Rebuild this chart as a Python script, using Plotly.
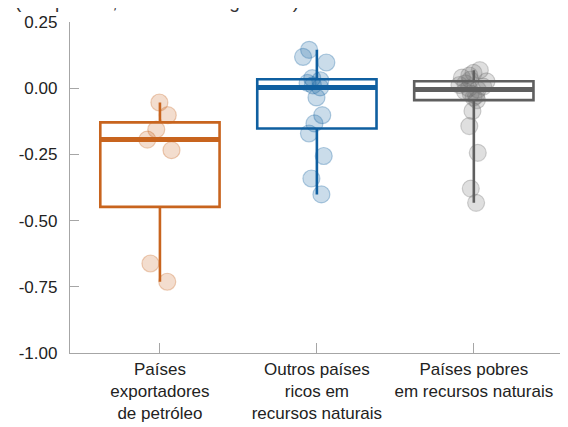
import numpy as np
import plotly.graph_objects as go

# ---- data ----
categories = ["Países<br>exportadores<br>de petróleo",
              "Outros países<br>ricos em<br>recursos naturais",
              "Países pobres<br>em recursos naturais"]
oil_exporters = [-0.054, -0.102, -0.156, -0.194, -0.234, -0.662, -0.731]
other_rich = [0.145, 0.118, 0.097, 0.038, 0.030, 0.020, 0.011, 0.003,
              -0.035, -0.102, -0.133, -0.171, -0.256, -0.341, -0.401]
resource_poor = [-0.433, -0.379, -0.244, -0.143, -0.086, -0.045, -0.035,
                 -0.028, -0.020, -0.012, -0.005, 0.000, 0.006, 0.012, 0.018,
                 0.026, 0.032, 0.040, 0.048, 0.058, 0.068]
y_tick_vals = [0.25, 0.0, -0.25, -0.5, -0.75, -1.0]
y_tick_text = ["0.25", "0.00", "-0.25", "-0.50", "-0.75", "-1.00"]
title_text = "(Em pontos; desvio em logaritmo)"

series = [oil_exporters, other_rich, resource_poor]
line_colors = ["#C8641E", "#0F5FA0", "#5F5F5F"]
point_fill = ["rgba(200,100,30,0.22)", "rgba(15,95,160,0.22)", "rgba(110,110,110,0.22)"]
point_line = ["rgba(200,100,30,0.30)", "rgba(15,95,160,0.30)", "rgba(110,110,110,0.30)"]

BOX_W = 0.76
FONT = "Liberation Sans, Arial, sans-serif"

fig = go.Figure()
for i, vals in enumerate(series):
    xs = [i] * len(vals)
    # points layer (beneath the box)
    fig.add_trace(go.Box(
        x=xs, y=vals, width=BOX_W, boxpoints="all", jitter=0.25, pointpos=0,
        line=dict(width=0, color="rgba(0,0,0,0)"), fillcolor="rgba(0,0,0,0)",
        marker=dict(size=17, color=point_fill[i],
                    line=dict(width=1.2, color=point_line[i])),
        whiskerwidth=0, showlegend=False, hoverinfo="y"))
    # box layer
    fig.add_trace(go.Box(
        x=xs, y=vals, width=BOX_W, boxpoints=False, quartilemethod="inclusive",
        line=dict(width=2.6, color=line_colors[i]), fillcolor="rgba(0,0,0,0)",
        whiskerwidth=0, showlegend=False))
    # thicker median
    med = float(np.median(vals))
    fig.add_trace(go.Scatter(
        x=[i - BOX_W / 2, i + BOX_W / 2], y=[med, med], mode="lines",
        line=dict(width=5, color=line_colors[i]), showlegend=False,
        hoverinfo="skip"))

fig.update_layout(
    width=560, height=419,
    margin=dict(l=62, r=0, t=14, b=74),
    paper_bgcolor="white", plot_bgcolor="white",
    boxmode="overlay",
    font=dict(family=FONT, size=17, color="#222222"),
    title=dict(text=title_text, x=7 / 560, xanchor="left", xref="container",
               y=1.0, yanchor="bottom", yref="container",
               font=dict(size=19, color="#333333")),
)
fig.update_xaxes(
    range=[-0.573, 2.6], tickvals=[0, 1, 2], ticktext=categories,
    showline=True, linecolor="#A6A6A6", linewidth=1.3,
    ticks="inside", ticklen=10, tickcolor="#A6A6A6", tickwidth=1.3,
    showgrid=False, zeroline=False, tickfont=dict(size=17, color="#222222"))
fig.update_yaxes(
    range=[-1.0, 0.25], tickvals=y_tick_vals, ticktext=y_tick_text,
    showline=True, linecolor="#A6A6A6", linewidth=1.3,
    ticks="inside", ticklen=9, tickcolor="#A6A6A6", tickwidth=1.3,
    ticklabelstandoff=8,
    showgrid=False, zeroline=False, tickfont=dict(size=17, color="#222222"))

fig.write_html("out.html")
